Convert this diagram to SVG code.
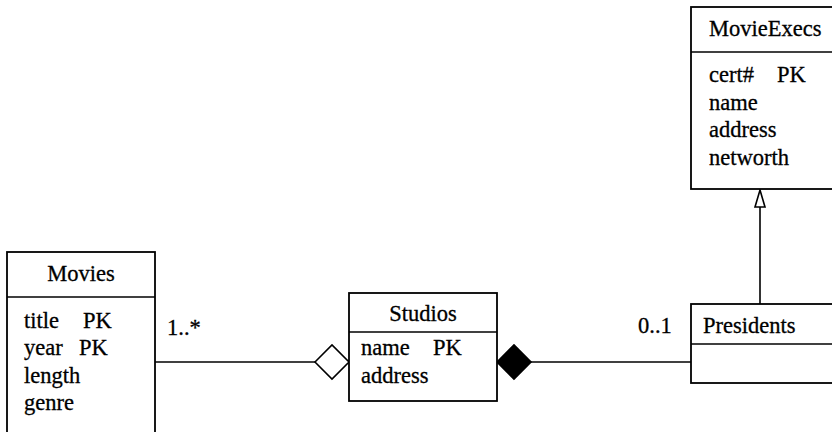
<svg xmlns="http://www.w3.org/2000/svg" width="832" height="432" viewBox="0 0 832 432">
<style>
.box{fill:#fff;stroke:#000;stroke-width:1.8}
.ln{stroke:#000;stroke-width:1.6;fill:none}
text{font-family:"Liberation Serif","Times New Roman",serif;font-size:22.5px;fill:#000;stroke:#000;stroke-width:0.3}
</style>
<rect width="832" height="432" fill="#fff"/>
<g id="connectors">
<line class="ln" x1="155" y1="362" x2="315" y2="362"/>
<polygon points="315,362 332,345 349,362 332,379" fill="#fff" stroke="#000" stroke-width="1.6"/>
<line class="ln" x1="531" y1="362" x2="691" y2="362"/>
<polygon points="497,362 514,345 531,362 514,379" fill="#000" stroke="#000" stroke-width="1.6"/>
<line class="ln" x1="760" y1="304" x2="760" y2="207"/>
<polygon points="760,190 765,207 755,207" fill="#fff" stroke="#000" stroke-width="1.6"/>
<text x="167" y="335">1..*</text>
<text x="638" y="333">0..1</text>
</g>
<g id="Movies">
<rect class="box" x="7" y="252" width="148" height="200"/>
<line class="ln" x1="7" y1="297" x2="155" y2="297"/>
<text x="81" y="281" text-anchor="middle">Movies</text>
<text x="24" y="328">title</text><text x="83" y="328">PK</text>
<text x="24" y="355">year</text><text x="79" y="355">PK</text>
<text x="24" y="383">length</text>
<text x="24" y="410">genre</text>
</g>
<g id="Studios">
<rect class="box" x="349" y="293" width="148" height="108"/>
<line class="ln" x1="349" y1="332" x2="497" y2="332"/>
<text x="423" y="321" text-anchor="middle">Studios</text>
<text x="361" y="355">name</text><text x="433" y="355">PK</text>
<text x="361" y="383">address</text>
</g>
<g id="MovieExecs">
<rect class="box" x="691" y="7" width="160" height="182"/>
<line class="ln" x1="691" y1="52" x2="851" y2="52"/>
<text x="709" y="36">MovieExecs</text>
<text x="709" y="82">cert#</text><text x="777" y="82">PK</text>
<text x="709" y="110">name</text>
<text x="709" y="137">address</text>
<text x="709" y="165">networth</text>
</g>
<g id="Presidents">
<rect class="box" x="691" y="304" width="160" height="79"/>
<line class="ln" x1="691" y1="344" x2="851" y2="344"/>
<text x="703" y="333">Presidents</text>
</g>
</svg>
